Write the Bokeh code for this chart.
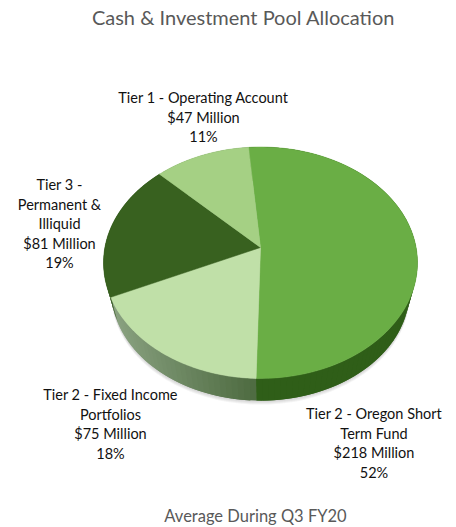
import numpy as np
from bokeh.plotting import figure
from bokeh.embed import file_html
from bokeh.resources import INLINE
from bokeh.core.properties import value

title = "Cash & Investment Pool Allocation"
footer = "Average During Q3 FY20"
names = ["Tier 2 - Oregon Short Term Fund", "Tier 2 - Fixed Income Portfolios",
         "Tier 3 - Permanent & Illiquid", "Tier 1 - Operating Account"]
amounts = [218, 75, 81, 47]
colors = ["#6aae45", "#c0e0a8", "#38611f", "#a5d084"]
wall_left = ["#2f5e18", "#8ba382", "#3c5f2a", "#7d9a6b"]
wall_right = ["#2f5e18", "#4f6c42", "#3c5f2a", "#7d9a6b"]
label_lines = [["Tier 2 - Oregon Short", "Term Fund", "$218 Million", "52%"],
               ["Tier 2 - Fixed Income", "Portfolios", "$75 Million", "18%"],
               ["Tier 3 -", "Permanent &", "Illiquid", "$81 Million", "19%"],
               ["Tier 1 - Operating Account", "$47 Million", "11%"]]
label_x = [373.5, 110, 59, 203]
label_y = [413, 394, 184, 97]

W, H = 456, 527
CX, CY, B, A, K, START = 260.0, 247.0, 155.6, 113.7, 0.1316, -5.0
SCALE, DROP = 0.95, 28.0
MID_Y = CY + (A / (1 - K) - A / (1 + K)) / 2


def rim(t):
    t = np.radians(t)
    d = 1 + K * np.cos(t)
    return CX + B * np.sin(t) / d, CY - A * np.cos(t) / d


def floor(t):
    x, y = rim(t)
    return CX + SCALE * (x - CX), MID_Y + SCALE * (y - MID_Y) + DROP


p = figure(width=W, height=H, x_range=(0, W), y_range=(H, 0),
           output_backend="svg", toolbar_location=None, min_border=0,
           outline_line_color=None)
p.axis.visible = False
p.grid.visible = False

shares = np.array(amounts, float) / sum(amounts)
edges = START + 360 * np.concatenate([[0], np.cumsum(shares)])


def hex2rgb(h):
    return np.array([int(h[i:i + 2], 16) for i in (1, 3, 5)], float)


# soft shadow beneath the body
tt = np.linspace(0, 360, 180)
fx, fy = floor(tt)
for g in [4, 3, 2, 1]:
    p.patch(fx, fy + g, fill_color="#777777", fill_alpha=0.08, line_color=None)

# side wall: overlapping strips between top rim and floor rim
xs, ys, cs = [], [], []
for i in range(4):
    n = max(int((edges[i + 1] - edges[i]) / 2), 1)
    ts = np.linspace(edges[i], edges[i + 1], n + 1)
    c0, c1 = hex2rgb(wall_left[i]), hex2rgb(wall_right[i])
    x, y = rim(ts)
    fx, fy = floor(ts)
    for j in range(n):
        k = min(j + 2, n)
        xs.append([x[j], x[k], fx[k], fx[j]])
        ys.append([y[j], y[k], fy[k], fy[j]])
        f = (x[j] - x.min()) / max(x.max() - x.min(), 1)
        c = c0 + (c1 - c0) * f
        cs.append("#%02x%02x%02x" % tuple(int(v) for v in c))
p.patches(xs, ys, fill_color=cs, line_color=None)

# top faces
for i in range(4):
    ts = np.linspace(edges[i], edges[i + 1], 120)
    x, y = rim(ts)
    p.patch(np.r_[CX, x], np.r_[CY, y], fill_color=colors[i], line_color=colors[i], line_width=0.5)

font = value("Lato")
for lines, lx, ly in zip(label_lines, label_x, label_y):
    p.text([lx] * len(lines), [ly + 19.5 * k for k in range(len(lines))], text=lines,
           text_font=font, text_font_size="14.5px", text_color="#111111",
           text_align="center", text_baseline="middle")
p.text([243], [16], text=[title], text_font=font, text_font_size="20px", text_color="#595959",
       text_align="center", text_baseline="middle")
p.text([255], [515.5], text=[footer], text_font=font, text_font_size="16.5px", text_color="#595959",
       text_align="center", text_baseline="middle")

open("out.html", "w").write(file_html(p, INLINE))
